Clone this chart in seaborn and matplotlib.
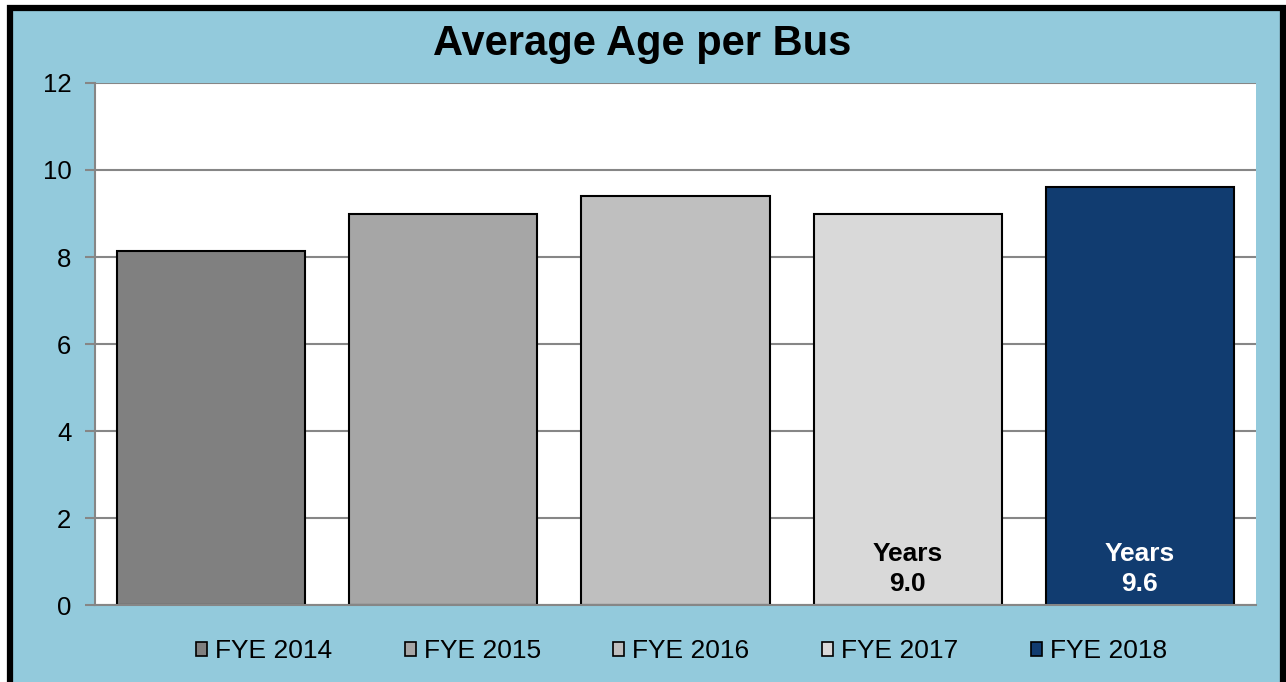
import seaborn as sns
import pandas as pd
import matplotlib.pyplot as plt
from matplotlib.patches import Rectangle

years = ["FYE 2014", "FYE 2015", "FYE 2016", "FYE 2017", "FYE 2018"]
avg_age = [8.13, 9.0, 9.4, 9.0, 9.6]
labelled = ["FYE 2017", "FYE 2018"]

colors = ["#808080", "#a6a6a6", "#bfbfbf", "#d9d9d9", "#113c70"]
label_colors = {"FYE 2017": "black", "FYE 2018": "white"}

df = pd.DataFrame({"year": years, "age": avg_age})

sns.set_style("white")
plt.rcParams["font.family"] = ["Liberation Sans", "DejaVu Sans"]
plt.rcParams["text.color"] = "black"
plt.rcParams["ytick.labelcolor"] = "black"

fig = plt.figure(figsize=(12.86, 6.82), dpi=100, facecolor="white")
# blue panel with the black frame, behind the axes
fig.patches.append(Rectangle((0.0078, -0.02), 0.99, 1.0077, transform=fig.transFigure,
                             facecolor="#93cadc", edgecolor="black", linewidth=4.5, zorder=-1))

ax = fig.add_axes([0.0739, 0.1129, 0.9028, 0.7654])
ax.set_facecolor("white")
ax.set_axisbelow(True)

sns.barplot(data=df, x="year", y="age", hue="year", palette=colors, width=0.81,
            saturation=1, edgecolor="black", linewidth=1.5, legend=True, ax=ax)

ax.set_ylim(0, 12)
ax.set_yticks(range(0, 13, 2))
ax.yaxis.grid(True, color="#868686", linewidth=1.5)
ax.tick_params(axis="y", labelsize=18.5, length=7, width=1.5, color="#868686", pad=10, left=True)
ax.tick_params(axis="x", bottom=False, labelbottom=False)
ax.set_xlabel("")
ax.set_ylabel("")
for side in ["top", "right"]:
    ax.spines[side].set_visible(False)
for side in ["left", "bottom"]:
    ax.spines[side].set_color("#868686")
    ax.spines[side].set_linewidth(1.5)

for i, (yr, val) in enumerate(zip(years, avg_age)):
    if yr in labelled:
        ax.text(i, 0.82, f"Years\n{val:.1f}", ha="center", va="center", fontsize=19,
                fontweight="bold", color=label_colors[yr], linespacing=1.3)

ax.legend(loc="upper center", bbox_to_anchor=(0.505, -0.02), ncol=5, frameon=False,
          fontsize=19, handlelength=0.42, handleheight=0.42, handletextpad=0.3,
          columnspacing=2.75)
for h in ax.get_legend().legend_handles:
    h.set_edgecolor("black")
    h.set_linewidth(1.2)

fig.text(0.4995, 0.935, "Average Age per Bus", ha="center", va="center",
         fontsize=30, fontweight="bold", color="black")

plt.savefig("out.png", dpi=100)
